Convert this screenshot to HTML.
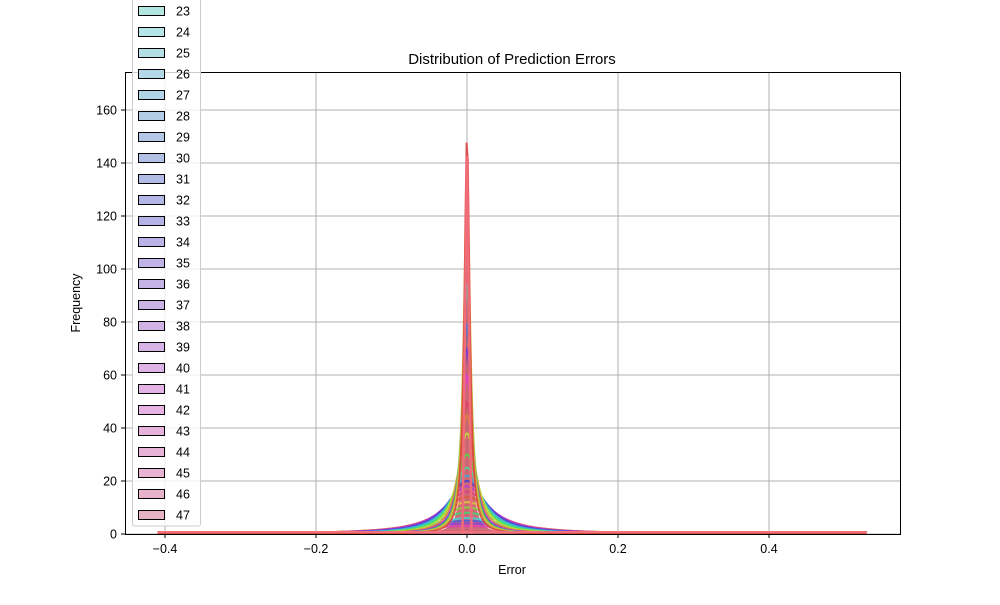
<!DOCTYPE html>
<html><head><meta charset="utf-8"><style>
body{margin:0;background:#fff;font-family:"Liberation Sans","DejaVu Sans",sans-serif}
</style></head><body>
<svg id="chart" width="1000" height="600" xmlns="http://www.w3.org/2000/svg" font-family="Liberation Sans, DejaVu Sans, sans-serif">
<rect width="1000" height="600" fill="#fff"/>
<g id="grid"></g>
<g id="series"></g>
<rect x="125.5" y="72.5" width="775" height="462" fill="none" stroke="#000" stroke-width="1"/>
<g id="ticks" font-size="12.5"></g>
<text x="512" y="64" text-anchor="middle" font-size="15">Distribution of Prediction Errors</text>
<text x="512" y="574" text-anchor="middle" font-size="12.5">Error</text>
<text transform="translate(80,303) rotate(-90)" text-anchor="middle" font-size="12.5">Frequency</text>
<g id="legend"></g>
</svg>
<script>
const xTicks=[-0.4,-0.2,0,0.2,0.4];
const xTickLabels=["\u22120.4","\u22120.2","0.0","0.2","0.4"];
const yTicks=[0,20,40,60,80,100,120,140,160];
const seriesIds=[23,24,25,26,27,28,29,30,31,32,33,34,35,36,37,38,39,40,41,42,43,44,45,46,47];
// KDE curve parameters: peak height and spread
const peaks=[150,135,120,108,95,80,70,60,50,45,38,30,25,22,20,18,16,14,12,10,8,6,5,4,3];
const spreads=[0.004,0.005,0.005,0.006,0.006,0.007,0.008,0.009,0.01,0.012,0.015,0.018,0.022,0.026,0.03,0.034,0.038,0.042,0.046,0.05,0.055,0.06,0.07,0.08,0.1];
const NS="http://www.w3.org/2000/svg";
const X=v=>467+v*755, Y=v=>534-v*2.65;
function mk(t,a,p){const e=document.createElementNS(NS,t);for(const k in a)e.setAttribute(k,a[k]);p.appendChild(e);return e;}
const grid=document.getElementById('grid'),ticks=document.getElementById('ticks');
xTicks.forEach((v,i)=>{
 const l=mk('line',{x1:X(v),x2:X(v),y1:72,y2:534,stroke:'#b0b0b0','stroke-width':1},grid);
 
 const t=mk('line',{x1:X(v),x2:X(v),y1:534,y2:538,stroke:'#000'},ticks);
 
 const tx=mk('text',{x:X(v),y:553,'text-anchor':'middle'},ticks);tx.textContent=xTickLabels[i];
 
});
yTicks.forEach(v=>{
 const l=mk('line',{x1:125,x2:900,y1:Y(v),y2:Y(v),stroke:'#b0b0b0','stroke-width':1},grid);
 
 const t=mk('line',{x1:121,x2:125,y1:Y(v),y2:Y(v),stroke:'#000'},ticks);
 
 const tx=mk('text',{x:117,y:Y(v)+4.5,'text-anchor':'end'},ticks);tx.textContent=v;
 
});
const lineColor=i=>`hsl(${(i*43)%360},70%,55%)`;
const swatchColor=i=>`hsl(${175+i*6.8},50%,80%)`;
const sg=document.getElementById('series');
const fillPts=[];for(let v=-0.45;v<=0.53;v+=0.001){fillPts.push(X(v).toFixed(1)+','+Y(peaks[0]*0.9/(1+Math.pow(v/(spreads[0]*0.9),2))).toFixed(1));}
const fa=mk('path',{d:'M'+X(-0.45)+',534 L'+fillPts.join(' L')+' L'+X(0.53)+',534 Z',fill:'#c4525e','fill-opacity':0.85},sg);

for(let i=peaks.length-1;i>=0;i--){
 const pts=[];
 for(let v=-0.41;v<=0.53;v+=0.0015){pts.push(X(v).toFixed(1)+','+Y(peaks[i]/(1+Math.pow(v/spreads[i],2))).toFixed(1));}
 const p=mk('path',{d:'M'+pts.join(' L'),fill:'none',stroke:lineColor(i),'stroke-width':2,'stroke-opacity':0.85},sg);
 
}
const hi=mk('path',{d:'M'+X(-0.006)+',534 L'+X(0)+','+Y(peaks[0]*0.95)+' L'+X(0.006)+',534',fill:'none',stroke:'#f06c78','stroke-width':2.5},sg);

const base=mk('line',{x1:X(-0.41),x2:X(0.53),y1:532,y2:532,stroke:'#f07080','stroke-width':2},sg);

const lg=document.getElementById('legend');
const box=mk('rect',{x:132.5,y:-20,width:68,height:546,rx:2,fill:'#fff','fill-opacity':0.8,stroke:'#ccc'},lg);

seriesIds.forEach((id,i)=>{
 const cy=11+i*21;
 const r=mk('rect',{x:138.5,y:cy-4.5,width:26,height:9,fill:swatchColor(i),stroke:'#000','stroke-width':1},lg);
 
 const t=mk('text',{x:176,y:cy+4.5,'font-size':12.5},lg);t.textContent=id;
 
});
</script>
</body></html>
